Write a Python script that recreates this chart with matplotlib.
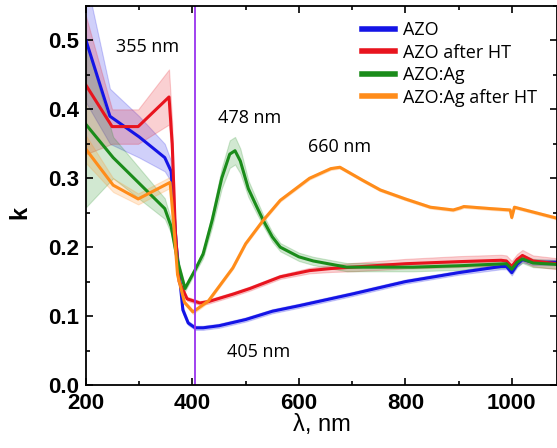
import numpy as np
import matplotlib.pyplot as plt
from matplotlib.ticker import MultipleLocator

# AZO
wl_azo = [200, 245, 300, 348, 360, 370, 382, 392, 405, 420, 450, 500, 550, 600, 700, 800, 900, 980, 990, 1000, 1010, 1020, 1040, 1085]
k_azo = [0.50, 0.39, 0.36, 0.33, 0.31, 0.20, 0.109, 0.09, 0.083, 0.083, 0.086, 0.095, 0.107, 0.115, 0.132, 0.150, 0.163, 0.172, 0.172, 0.163, 0.175, 0.182, 0.178, 0.178]
err_azo = [0.09, 0.04, 0.03, 0.02, 0.015, 0.01, 0.005, 0.003, 0.003, 0.003, 0.003, 0.003, 0.003, 0.003, 0.003, 0.003, 0.003, 0.004, 0.004, 0.004, 0.004, 0.004, 0.004, 0.004]

# AZO after HT
wl_azo_ht = [200, 249, 298, 356, 362, 368, 375, 390, 414, 430, 477, 508, 565, 620, 660, 700, 800, 900, 980, 990, 1000, 1010, 1020, 1040, 1085]
k_azo_ht = [0.435, 0.375, 0.375, 0.418, 0.35, 0.22, 0.15, 0.125, 0.119, 0.121, 0.132, 0.140, 0.157, 0.166, 0.169, 0.171, 0.176, 0.179, 0.181, 0.180, 0.172, 0.182, 0.188, 0.180, 0.176]
err_azo_ht = [0.10, 0.025, 0.025, 0.04, 0.03, 0.01, 0.004, 0.003, 0.003, 0.003, 0.003, 0.003, 0.003, 0.004, 0.005, 0.006, 0.007, 0.008, 0.008, 0.008, 0.008, 0.008, 0.008, 0.008, 0.008]

# AZO:Ag
wl_azo_ag = [200, 251, 348, 360, 372, 386, 405, 420, 437, 455, 470, 480, 490, 505, 520, 533, 550, 565, 600, 627, 690, 815, 900, 990, 1000, 1010, 1020, 1040, 1085]
k_azo_ag = [0.378, 0.33, 0.256, 0.23, 0.18, 0.14, 0.167, 0.19, 0.239, 0.30, 0.335, 0.34, 0.325, 0.285, 0.26, 0.239, 0.215, 0.20, 0.186, 0.18, 0.171, 0.171, 0.173, 0.176, 0.168, 0.178, 0.183, 0.177, 0.175]
err_azo_ag = [0.12, 0.03, 0.015, 0.01, 0.006, 0.004, 0.004, 0.006, 0.01, 0.015, 0.02, 0.02, 0.018, 0.012, 0.01, 0.008, 0.007, 0.006, 0.006, 0.006, 0.006, 0.006, 0.006, 0.006, 0.006, 0.006, 0.006, 0.006, 0.006]

# AZO:Ag after HT
wl_azo_ag_ht = [200, 251, 298, 358, 364, 372, 385, 401, 430, 476, 500, 533, 565, 620, 660, 677, 720, 753, 800, 847, 890, 903, 910, 960, 997, 1000, 1005, 1020, 1085]
k_azo_ag_ht = [0.342, 0.29, 0.27, 0.294, 0.24, 0.16, 0.12, 0.106, 0.122, 0.17, 0.205, 0.239, 0.268, 0.300, 0.314, 0.316, 0.297, 0.283, 0.270, 0.258, 0.254, 0.257, 0.259, 0.256, 0.254, 0.243, 0.258, 0.255, 0.242]
err_azo_ag_ht = [0.02, 0.01, 0.008, 0.008, 0.006, 0.004, 0.003, 0.003, 0.002, 0.002, 0.002, 0.002, 0.002, 0.002, 0.002, 0.002, 0.002, 0.002, 0.002, 0.002, 0.002, 0.002, 0.002, 0.002, 0.002, 0.002, 0.002, 0.002, 0.002]

labels = ['AZO', 'AZO after HT', 'AZO:Ag', 'AZO:Ag after HT']
colors = ['#1414e6', '#e8141e', '#1a8c1a', '#ff8c1a']
peak_labels = ['355 nm', '478 nm', '660 nm', '405 nm']
peak_pos = [(316, 0.49), (508, 0.388), (677, 0.345), (525, 0.048)]

fig = plt.figure(figsize=(5.57, 4.48), dpi=100)
ax = fig.add_axes([86/557, 63/448, 471/557, 379/448])

series = [(wl_azo, k_azo, err_azo), (wl_azo_ht, k_azo_ht, err_azo_ht),
          (wl_azo_ag, k_azo_ag, err_azo_ag), (wl_azo_ag_ht, k_azo_ag_ht, err_azo_ag_ht)]

for (x, y, e), c in zip(series, colors):
    x = np.array(x); y = np.array(y); e = np.array(e)
    ax.fill_between(x, y - e, y + e, color=c, alpha=0.2, lw=0.8, edgecolor=c)

for (x, y, e), c, lab in zip(series, colors, labels):
    ax.plot(x, y, color=c, lw=2.2, label=lab)

ax.axvline(405, color='#9933ee', lw=1.3)

for t, p in zip(peak_labels, peak_pos):
    ax.text(p[0], p[1], t, ha='center', va='center', fontsize=13, family='Open Sans')

ax.set_xlim(200, 1085)
ax.set_ylim(0, 0.55)
ax.xaxis.set_major_locator(MultipleLocator(200))
ax.xaxis.set_minor_locator(MultipleLocator(100))
ax.yaxis.set_major_locator(MultipleLocator(0.1))
ax.yaxis.set_minor_locator(MultipleLocator(0.05))
ax.tick_params(which='both', direction='in', top=True, right=True, width=1.2)
ax.tick_params(which='major', length=5, pad=5)
ax.tick_params(axis='x', which='major', pad=6)
ax.tick_params(which='minor', length=3)
for lbl in ax.get_xticklabels() + ax.get_yticklabels():
    lbl.set_fontweight('bold')
    lbl.set_fontsize(16)
    lbl.set_family('Liberation Sans')
for s in ax.spines.values():
    s.set_linewidth(1.3)

ax.set_xlabel('λ, nm', fontsize=17, family='Liberation Sans', labelpad=0)
ax.set_ylabel('k', fontsize=17, fontweight='bold', family='Liberation Sans')
ax.yaxis.set_label_coords(-0.115, 0.454)

leg = ax.legend(loc='upper left', bbox_to_anchor=(0.586, 0.96), frameon=False,
                borderpad=0, borderaxespad=0, handlelength=1.8, handletextpad=0.45,
                labelspacing=0.25, prop={'family': 'Open Sans', 'size': 13})
for h in leg.get_lines():
    h.set_linewidth(4)

fig.savefig('out.png', dpi=100)
